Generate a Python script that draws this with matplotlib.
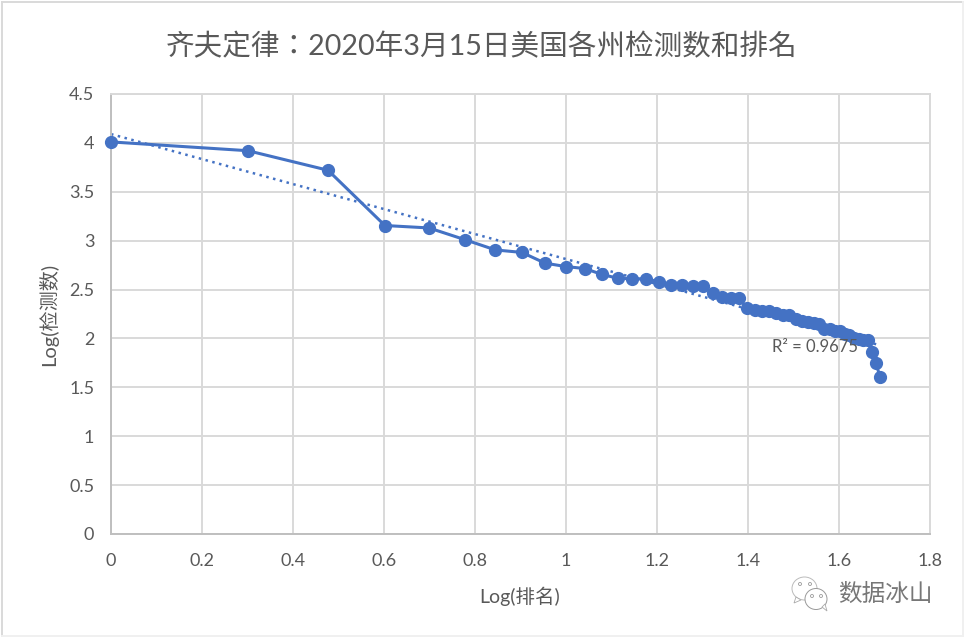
"""齐夫定律 chart: log(rank) vs log(tests) for US states, 2020-03-15."""

import matplotlib
matplotlib.use("Agg")
import matplotlib.pyplot as plt
from matplotlib.lines import Line2D
from matplotlib.patches import Ellipse, Polygon

plt.rcParams["font.family"] = ["Lato", "Noto Sans CJK SC", "DejaVu Sans"]

# 数据
log_rank = [0, 0.301, 0.477, 0.602, 0.699, 0.778, 0.845, 0.903, 0.954, 1.0,
            1.041, 1.079, 1.114, 1.146, 1.176, 1.204, 1.230, 1.255, 1.279, 1.301,
            1.322, 1.342, 1.362, 1.380, 1.398, 1.415, 1.431, 1.447, 1.462, 1.477,
            1.491, 1.505, 1.519, 1.531, 1.544, 1.556, 1.568, 1.580, 1.591, 1.602,
            1.613, 1.623, 1.633, 1.643, 1.653, 1.663, 1.672, 1.681, 1.690]
log_tests = [4.01, 3.92, 3.72, 3.155, 3.13, 3.01, 2.905, 2.88, 2.77, 2.735,
             2.715, 2.655, 2.615, 2.61, 2.61, 2.58, 2.55, 2.55, 2.54, 2.54,
             2.46, 2.42, 2.41, 2.41, 2.31, 2.29, 2.28, 2.28, 2.26, 2.24,
             2.24, 2.20, 2.18, 2.17, 2.16, 2.15, 2.10, 2.10, 2.08, 2.08,
             2.05, 2.04, 2.00, 1.99, 1.98, 1.98, 1.86, 1.75, 1.61]
trend_x = [0, 1.69]
trend_y = [4.09, 1.93]

x_ticks = [0, 0.2, 0.4, 0.6, 0.8, 1, 1.2, 1.4, 1.6, 1.8]
x_labels = ["0", "0.2", "0.4", "0.6", "0.8", "1", "1.2", "1.4", "1.6", "1.8"]
y_ticks = [0, 0.5, 1, 1.5, 2, 2.5, 3, 3.5, 4, 4.5]
y_labels = ["0", "0.5", "1", "1.5", "2", "2.5", "3", "3.5", "4", "4.5"]

BLUE = "#4472C4"
TEXT = "#595959"
GRID = "#D9D9D9"
W, H = 964, 637


def fx(px):
    return px / W


def fy(py):
    return 1 - py / H


fig = plt.figure(figsize=(W / 100, H / 100), dpi=100)
ax = fig.add_axes([fx(111), fy(534), fx(930 - 111), (534 - 94) / H])

ax.plot(log_rank, log_tests, color=BLUE, lw=2.2, marker="o", ms=8.5, clip_on=False, zorder=3)
ax.plot(trend_x, trend_y, color=BLUE, lw=1.8, ls=(0, (1, 1.8)), zorder=2)

ax.set_xlim(0, 1.8)
ax.set_ylim(0, 4.5)
ax.set_xticks(x_ticks, x_labels)
ax.set_yticks(y_ticks, y_labels)
ax.tick_params(length=0, labelsize=13, labelcolor=TEXT)
ax.tick_params(axis="x", pad=14)
ax.tick_params(axis="y", pad=12)
ax.grid(True, color=GRID, lw=1.4)
ax.set_axisbelow(True)
for name in ["top", "right"]:
    ax.spines[name].set_color(GRID)
    ax.spines[name].set_linewidth(1.4)
for name in ["left", "bottom"]:
    ax.spines[name].set_color("#BFBFBF")
    ax.spines[name].set_linewidth(1.4)

ax.text(1.452, 1.91, "R² = 0.9675", fontsize=12, color=TEXT, ha="left", va="center", zorder=4)

fig.text(fx(482), fy(47), "齐夫定律：2020年3月15日美国各州检测数和排名", fontsize=20.6,
         family=["Lato", "Noto Sans CJK TC"], color=TEXT, ha="center", va="center")
fig.text(fx(520), fy(596), "Log(排名)", fontsize=14, color=TEXT, ha="center", va="center")
fig.text(fx(48), fy(314), "Log(检测数)", fontsize=14.5, color=TEXT, ha="center", va="center",
         rotation=90)

# 外框: strong on the left and top, faint on the right and bottom
frame = [((2, 2), (2, 637), GRID), ((2, 963), (2, 2), GRID),
         ((963, 963), (2, 637), "#F0F0F0"), ((2, 963), (636, 636), "#F0F0F0")]
for xs, ys, c in frame:
    fig.add_artist(Line2D([fx(v) for v in xs], [fy(v) for v in ys], color=c, lw=1.4))

# 水印
fig.text(fx(885), fy(594), "数据冰山", fontsize=17, color="#777777", ha="center", va="center")
bubbles = [((804.5, 588.5), 25, 23, "#BBBBBB"), ((816, 599), 22, 21, "#999999")]
for (cx, cy), w, h, c in bubbles:
    fig.add_artist(Ellipse((fx(cx), fy(cy)), fx(w), h / H, transform=fig.transFigure,
                           fc="white", ec=c, lw=0.7))
tails = [[(796, 597), (794, 603), (801, 600)], [(822, 607), (827, 611), (825, 604)]]
for tail in tails:
    fig.add_artist(Polygon([(fx(a), fy(b)) for a, b in tail], transform=fig.transFigure,
                           fc="white", ec="#AAAAAA", lw=0.6))
eyes = [(800, 584), (810, 584), (812, 596), (821, 596)]
for a, b in eyes:
    fig.add_artist(Ellipse((fx(a), fy(b)), fx(3), 3 / H, transform=fig.transFigure,
                           fc="white", ec="#999999", lw=0.6))

fig.savefig("out.png", dpi=100)
